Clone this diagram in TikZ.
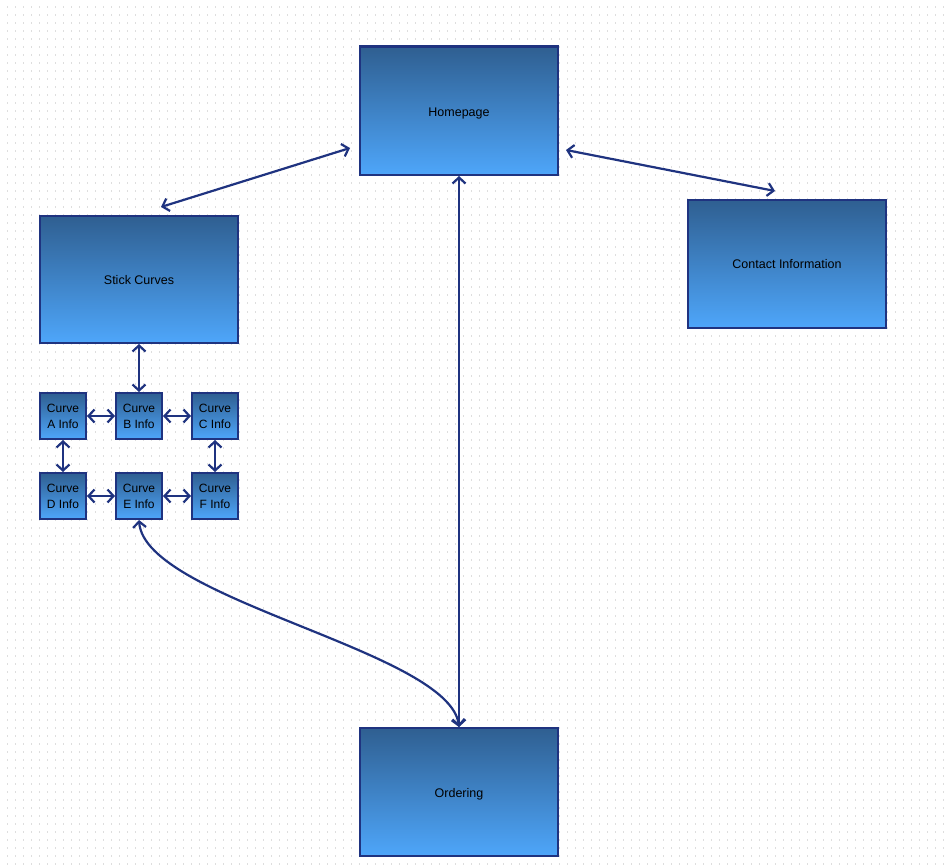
\documentclass[tikz,border=0pt]{standalone}
\usepackage{fontspec}
\setmainfont{Liberation Sans}
\usepackage{tikz}
\usetikzlibrary{arrows.meta}
\definecolor{boxline}{RGB}{31,51,128}
\definecolor{boxtop}{RGB}{47,95,145}
\definecolor{boxbottom}{RGB}{78,166,250}
\definecolor{griddot}{RGB}{222,222,222}
\tikzstyle{page} = [draw=boxline, line width=2pt, top color=boxtop, bottom color=boxbottom, minimum width=198pt, minimum height=128pt, inner sep=0pt, text depth=0pt, font=\fontsize{12.5}{15}\selectfont]
\tikzstyle{infobox} = [page, minimum width=46pt, minimum height=46pt, align=center, font=\fontsize{12}{16}\selectfont]
\tikzstyle{arrow} = [draw=boxline, line width=2.2pt, {Straight Barb[length=6pt,width=13pt]}-{Straight Barb[length=6pt,width=13pt]}]
\tikzstyle{gridline} = [griddot, line width=2pt, dash pattern=on 1pt off 7pt]

\begin{document}
\begin{tikzpicture}[x=1pt,y=-1pt]
\useasboundingbox (0,0) rectangle (944,866);
\fill[white] (0,0) rectangle (944,866);
% dotted background
\foreach \j in {0,...,107}
  \draw[gridline] (7,7.5+8*\j) -- (944,7.5+8*\j);

\node[page] (home) at (459,111) {\raisebox{-2pt}{Homepage}};
\node[page, minimum height=127pt] (stick) at (139,279.5) {\raisebox{-1pt}{Stick Curves}};
\node[page] (contact) at (787,264) {Contact Information};
\node[page] (order) at (459,792) {\raisebox{-1pt}{Ordering}};
\draw[boxline, line width=2pt] (home.north west) -- (home.north east); % heavier top edge

\node[infobox] (curveA) at (63,416) {Curve\\A Info};
\node[infobox] (curveB) at (139,416) {Curve\\B Info};
\node[infobox] (curveC) at (215,416) {Curve\\C Info};
\node[infobox] (curveD) at (63,496) {Curve\\D Info};
\node[infobox] (curveE) at (139,496) {Curve\\E Info};
\node[infobox] (curveF) at (215,496) {Curve\\F Info};

\draw[arrow] ([shift={(-9,37)}]home.west) -- ([shift={(22,-8)}]stick.north);
\draw[arrow] ([shift={(7,39)}]home.east) -- ([shift={(-12,-8)}]contact.north);
\draw[arrow] (home.south) -- (order.north);
\draw[arrow] (stick.south) -- (curveB.north);
\draw[arrow] (curveA) -- (curveB);
\draw[arrow] (curveB) -- (curveC);
\draw[arrow] (curveA) -- (curveD);
\draw[arrow] (curveC) -- (curveF);
\draw[arrow] (curveD) -- (curveE);
\draw[arrow] (curveE) -- (curveF);
\draw[arrow] (curveE.south) .. controls +(6,80) and +(-9,-76) .. (order.north);
\end{tikzpicture}
\end{document}
